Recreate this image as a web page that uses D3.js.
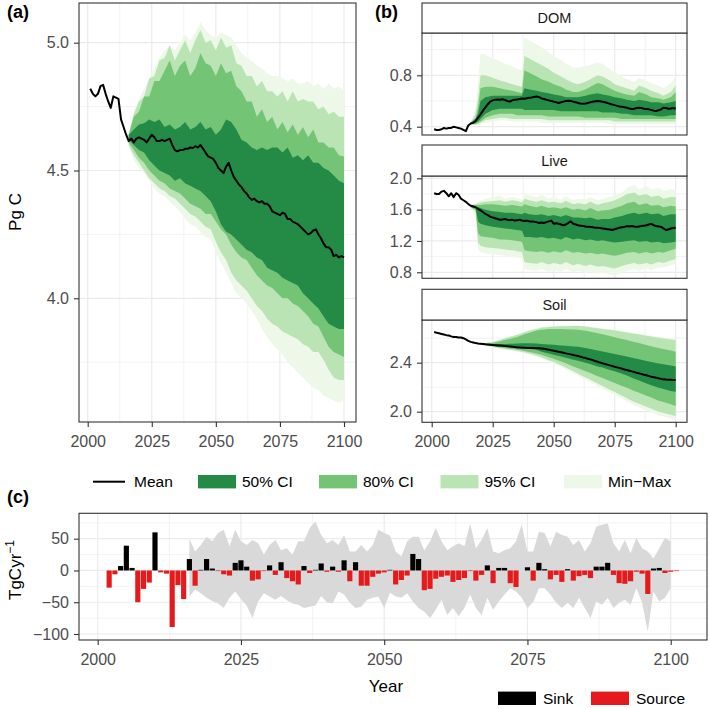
<!DOCTYPE html>
<html><head><meta charset="utf-8">
<script src="https://cdn.jsdelivr.net/npm/d3@7"></script>
<style>body{margin:0;background:#fff} svg text{font-family:"Liberation Sans",Arial,Helvetica,sans-serif}</style>
</head><body><svg id="chart" width="709" height="709"></svg>
<script>
// ---------------- DATA ----------------
const meanYears = d3.range(2001, 2101); // 2001..2100
const bandYearsA = [2016,2018,2020,2022,2024,2026,2028,2030,2032,2034,2036,2038,2040,2042,2044,2046,2048,2050,2052,2054,2056,2058,2060,2062,2064,2066,2068,2070,2072,2074,2076,2078,2080,2082,2084,2086,2088,2090,2092,2094,2096,2098,2100];

// Panel (a): total carbon, Pg C
const totalMean = [4.82,4.80,4.79,4.80,4.83,4.835,4.80,4.77,4.745,4.79,4.785,4.78,4.70,4.67,4.64,4.615,4.625,4.61,4.625,4.63,
4.625,4.62,4.61,4.625,4.64,4.63,4.615,4.615,4.62,4.615,4.62,4.625,4.60,4.58,4.575,4.58,4.58,4.585,4.585,4.59,
4.588,4.595,4.59,4.60,4.585,4.57,4.555,4.55,4.545,4.53,4.51,4.50,4.49,4.515,4.53,4.50,4.475,4.46,4.445,4.435,
4.42,4.41,4.395,4.385,4.39,4.38,4.375,4.38,4.37,4.37,4.36,4.34,4.335,4.33,4.325,4.335,4.33,4.31,4.31,4.30,
4.295,4.29,4.28,4.27,4.26,4.25,4.255,4.265,4.27,4.25,4.235,4.215,4.20,4.20,4.19,4.165,4.17,4.16,4.165,4.16];
const totalMinMaxHi = [4.64,4.73,4.78,4.82,4.86,4.90,4.94,4.97,4.99,4.97,5.00,5.03,5.01,5.04,5.08,5.05,5.03,5.02,5.04,5.03,5.02,4.99,4.96,4.94,4.93,4.91,4.90,4.88,4.87,4.87,4.86,4.85,4.86,4.84,4.84,4.85,4.83,4.84,4.82,4.84,4.82,4.83,4.81];
const total95Hi = [4.64,4.72,4.77,4.79,4.86,4.87,4.93,4.94,4.99,4.93,4.97,5.01,4.96,5.01,5.05,5.00,5.01,4.97,5.02,4.98,4.99,4.92,4.91,4.87,4.87,4.83,4.85,4.81,4.81,4.79,4.81,4.77,4.81,4.77,4.78,4.77,4.77,4.74,4.75,4.72,4.73,4.71,4.71];
const total80Hi = [4.64,4.71,4.73,4.79,4.79,4.85,4.85,4.89,4.93,4.87,4.91,4.93,4.87,4.90,4.96,4.92,4.91,4.87,4.92,4.88,4.89,4.83,4.81,4.77,4.77,4.71,4.74,4.69,4.71,4.66,4.69,4.65,4.68,4.64,4.67,4.63,4.66,4.61,4.61,4.59,4.59,4.56,4.555];
const total50Hi = [4.64,4.66,4.68,4.685,4.70,4.69,4.70,4.67,4.68,4.66,4.67,4.69,4.66,4.67,4.69,4.66,4.67,4.64,4.66,4.70,4.69,4.66,4.62,4.61,4.59,4.58,4.59,4.58,4.59,4.59,4.57,4.59,4.55,4.56,4.54,4.56,4.53,4.53,4.51,4.50,4.48,4.46,4.45];
const total50Lo = [4.62,4.60,4.58,4.57,4.54,4.52,4.50,4.49,4.48,4.46,4.47,4.45,4.44,4.43,4.42,4.40,4.38,4.34,4.29,4.26,4.25,4.23,4.21,4.19,4.18,4.16,4.15,4.12,4.11,4.10,4.08,4.07,4.06,4.05,4.02,4.00,3.98,3.96,3.93,3.90,3.89,3.88,3.88];
const total80Lo = [4.61,4.58,4.55,4.53,4.50,4.48,4.46,4.45,4.43,4.42,4.41,4.39,4.37,4.36,4.35,4.33,4.33,4.30,4.27,4.25,4.21,4.18,4.16,4.15,4.12,4.09,4.07,4.05,4.04,4.02,4.00,4.00,3.98,3.97,3.95,3.93,3.90,3.89,3.85,3.81,3.79,3.78,3.77];
const total95Lo = [4.60,4.56,4.53,4.50,4.47,4.45,4.43,4.42,4.40,4.39,4.37,4.35,4.33,4.32,4.30,4.28,4.27,4.22,4.18,4.15,4.10,4.07,4.05,4.03,4.00,3.97,3.95,3.92,3.90,3.89,3.87,3.86,3.85,3.84,3.82,3.81,3.79,3.79,3.76,3.72,3.69,3.68,3.68];
const totalMinMaxLo = [4.59,4.54,4.51,4.49,4.46,4.43,4.41,4.40,4.38,4.36,4.34,4.31,4.29,4.28,4.26,4.24,4.23,4.18,4.14,4.10,4.06,4.02,4.00,3.98,3.95,3.92,3.88,3.85,3.82,3.80,3.78,3.75,3.73,3.71,3.69,3.67,3.65,3.64,3.62,3.61,3.60,3.59,3.60];

// Panel (b): pools
const poolNames = ["DOM","Live","Soil"];
const bandYearsB = [2016,2018,2019,2020,2022,2025,2028,2030,2033,2035,2037,2038,2040,2043,2045,2048,2050,2053,2055,2058,2060,2063,2065,2068,2070,2073,2075,2078,2080,2083,2085,2088,2090,2093,2095,2098,2100];

const domMean = [0.38,0.375,0.375,0.38,0.39,0.385,0.39,0.39,0.40,0.395,0.39,0.385,0.375,0.365,0.41,0.425,0.43,0.445,0.47,0.495,
0.525,0.55,0.575,0.595,0.605,0.61,0.612,0.61,0.613,0.608,0.60,0.595,0.605,0.61,0.612,0.615,0.62,0.618,0.622,0.625,
0.628,0.632,0.635,0.63,0.62,0.615,0.61,0.605,0.60,0.595,0.59,0.585,0.59,0.595,0.60,0.602,0.60,0.595,0.59,0.585,
0.58,0.578,0.58,0.585,0.59,0.595,0.598,0.60,0.598,0.595,0.59,0.585,0.578,0.572,0.568,0.562,0.558,0.555,0.552,0.548,
0.542,0.538,0.54,0.545,0.548,0.545,0.54,0.538,0.535,0.53,0.525,0.522,0.528,0.535,0.548,0.545,0.54,0.542,0.545,0.54];
const domMinMaxHi = [0.43,0.55,0.75,0.97,0.96,0.93,0.91,0.89,0.87,0.85,0.84,1.09,1.07,1.04,1.02,0.98,0.95,0.92,0.89,0.86,0.86,0.87,0.88,0.90,0.89,0.85,0.82,0.79,0.77,0.75,0.78,0.76,0.74,0.72,0.70,0.74,0.79];
const dom95Hi = [0.43,0.50,0.62,0.80,0.80,0.78,0.76,0.75,0.73,0.72,0.71,0.95,0.93,0.90,0.88,0.85,0.82,0.79,0.77,0.74,0.73,0.75,0.77,0.80,0.79,0.76,0.73,0.71,0.70,0.68,0.72,0.70,0.68,0.66,0.64,0.67,0.72];
const dom80Hi = [0.43,0.47,0.55,0.70,0.71,0.71,0.70,0.69,0.68,0.67,0.66,0.84,0.82,0.79,0.77,0.75,0.73,0.71,0.69,0.67,0.67,0.69,0.71,0.74,0.73,0.70,0.68,0.66,0.65,0.64,0.67,0.65,0.63,0.62,0.61,0.63,0.67];
const dom50Hi = [0.43,0.46,0.50,0.60,0.63,0.64,0.64,0.64,0.64,0.64,0.64,0.70,0.69,0.68,0.67,0.66,0.65,0.64,0.63,0.63,0.63,0.64,0.65,0.66,0.65,0.64,0.63,0.62,0.61,0.60,0.61,0.60,0.59,0.59,0.58,0.59,0.60];
const dom50Lo = [0.42,0.43,0.44,0.46,0.50,0.53,0.54,0.54,0.54,0.54,0.54,0.53,0.53,0.53,0.53,0.53,0.53,0.52,0.52,0.52,0.52,0.52,0.52,0.52,0.51,0.51,0.51,0.50,0.50,0.49,0.49,0.49,0.49,0.48,0.48,0.49,0.49];
const dom80Lo = [0.42,0.42,0.43,0.44,0.47,0.49,0.50,0.50,0.50,0.49,0.49,0.49,0.49,0.49,0.49,0.48,0.48,0.48,0.48,0.48,0.48,0.47,0.47,0.47,0.47,0.47,0.47,0.46,0.46,0.46,0.46,0.46,0.46,0.46,0.46,0.46,0.46];
const dom95Lo = [0.42,0.42,0.42,0.43,0.45,0.46,0.47,0.47,0.46,0.46,0.46,0.46,0.46,0.46,0.46,0.45,0.45,0.45,0.45,0.45,0.45,0.45,0.45,0.45,0.45,0.45,0.44,0.44,0.44,0.44,0.44,0.44,0.44,0.44,0.44,0.44,0.44];
const domMinMaxLo = [0.42,0.41,0.41,0.42,0.43,0.44,0.45,0.45,0.44,0.44,0.44,0.44,0.44,0.44,0.43,0.43,0.43,0.43,0.43,0.43,0.43,0.43,0.43,0.43,0.43,0.42,0.42,0.42,0.42,0.42,0.42,0.42,0.42,0.42,0.42,0.42,0.42];

const liveMean = [1.81,1.80,1.80,1.83,1.84,1.81,1.77,1.81,1.76,1.81,1.79,1.74,1.72,1.70,1.67,1.65,1.64,1.63,1.61,1.59,
1.57,1.545,1.53,1.51,1.50,1.49,1.48,1.47,1.475,1.48,1.47,1.465,1.47,1.46,1.465,1.47,1.46,1.455,1.46,1.45,
1.45,1.445,1.44,1.43,1.435,1.43,1.44,1.45,1.46,1.42,1.425,1.42,1.41,1.40,1.41,1.43,1.45,1.42,1.41,1.40,
1.395,1.39,1.385,1.38,1.38,1.375,1.37,1.37,1.365,1.36,1.355,1.35,1.345,1.34,1.35,1.36,1.37,1.375,1.38,1.39,
1.385,1.39,1.385,1.38,1.385,1.39,1.395,1.40,1.41,1.42,1.40,1.39,1.385,1.38,1.36,1.34,1.345,1.36,1.365,1.37];
const liveMinMaxHi = [1.66,1.68,1.70,1.72,1.74,1.76,1.78,1.74,1.76,1.75,1.73,1.80,1.78,1.76,1.79,1.74,1.76,1.73,1.77,1.72,1.74,1.73,1.76,1.72,1.74,1.76,1.78,1.82,1.88,1.92,1.86,1.90,1.86,1.88,1.84,1.86,1.85];
const live95Hi = [1.66,1.67,1.68,1.69,1.70,1.71,1.72,1.70,1.72,1.71,1.69,1.74,1.72,1.70,1.72,1.69,1.70,1.68,1.71,1.67,1.68,1.67,1.70,1.66,1.68,1.70,1.72,1.76,1.80,1.82,1.78,1.80,1.76,1.78,1.74,1.76,1.76];
const live80Hi = [1.66,1.66,1.66,1.66,1.67,1.67,1.66,1.65,1.66,1.65,1.64,1.67,1.65,1.63,1.65,1.62,1.63,1.61,1.63,1.60,1.61,1.59,1.62,1.58,1.59,1.60,1.62,1.65,1.68,1.70,1.66,1.68,1.65,1.66,1.63,1.65,1.64];
const live50Hi = [1.65,1.64,1.63,1.62,1.60,1.58,1.57,1.56,1.56,1.55,1.54,1.56,1.54,1.53,1.54,1.52,1.53,1.51,1.53,1.50,1.50,1.49,1.50,1.47,1.48,1.48,1.50,1.52,1.54,1.56,1.54,1.56,1.54,1.55,1.52,1.54,1.54];
const live50Lo = [1.64,1.62,1.45,1.42,1.40,1.38,1.37,1.36,1.35,1.34,1.33,1.25,1.25,1.24,1.25,1.23,1.24,1.22,1.25,1.22,1.23,1.21,1.22,1.20,1.21,1.19,1.18,1.19,1.20,1.21,1.19,1.20,1.18,1.19,1.17,1.18,1.19];
const live80Lo = [1.63,1.60,1.30,1.26,1.25,1.24,1.22,1.22,1.21,1.20,1.19,1.08,1.07,1.06,1.07,1.05,1.07,1.05,1.08,1.05,1.06,1.04,1.05,1.03,1.04,1.02,1.01,1.03,1.05,1.06,1.04,1.06,1.04,1.06,1.05,1.08,1.10];
const live95Lo = [1.62,1.58,1.18,1.14,1.12,1.11,1.10,1.09,1.08,1.07,1.06,0.93,0.92,0.91,0.93,0.90,0.92,0.90,0.93,0.89,0.91,0.88,0.90,0.87,0.88,0.86,0.85,0.88,0.90,0.92,0.90,0.92,0.90,0.93,0.92,0.95,0.97];
const liveMinMaxLo = [1.61,1.56,1.10,1.06,1.04,1.03,1.02,1.01,1.00,0.99,0.98,0.84,0.83,0.82,0.84,0.81,0.83,0.81,0.84,0.80,0.82,0.79,0.81,0.78,0.79,0.77,0.76,0.79,0.82,0.84,0.82,0.85,0.83,0.86,0.86,0.89,0.91];

const soilMean = [2.650,2.645,2.640,2.635,2.630,2.625,2.622,2.615,2.610,2.610,2.605,2.606,2.600,2.590,2.578,2.570,2.565,2.560,2.557,2.555,
2.553,2.550,2.549,2.547,2.545,2.543,2.541,2.540,2.538,2.536,2.534,2.532,2.530,2.528,2.525,2.524,2.523,2.522,2.521,2.520,
2.519,2.519,2.518,2.517,2.516,2.513,2.510,2.506,2.502,2.498,2.494,2.489,2.485,2.481,2.476,2.472,2.468,2.463,2.458,2.454,
2.449,2.443,2.438,2.432,2.427,2.421,2.414,2.408,2.401,2.395,2.390,2.384,2.378,2.373,2.367,2.362,2.356,2.351,2.345,2.340,
2.335,2.329,2.324,2.318,2.313,2.308,2.302,2.297,2.291,2.286,2.282,2.278,2.273,2.268,2.264,2.262,2.261,2.260,2.259,2.258];
const soilMinMaxHi = [2.571,2.564,2.562,2.560,2.563,2.574,2.590,2.605,2.620,2.632,2.646,2.654,2.666,2.681,2.691,2.698,2.701,2.703,2.704,2.706,2.706,2.701,2.696,2.688,2.682,2.674,2.668,2.658,2.652,2.642,2.636,2.626,2.620,2.610,2.604,2.596,2.591];
const soil95Hi = [2.570,2.562,2.560,2.558,2.560,2.570,2.585,2.600,2.615,2.626,2.640,2.648,2.660,2.675,2.685,2.692,2.695,2.697,2.698,2.700,2.700,2.695,2.690,2.682,2.676,2.668,2.662,2.652,2.646,2.636,2.630,2.620,2.614,2.604,2.598,2.590,2.585];
const soil80Hi = [2.570,2.561,2.559,2.556,2.556,2.560,2.575,2.585,2.600,2.610,2.625,2.632,2.645,2.662,2.670,2.675,2.676,2.675,2.674,2.672,2.670,2.660,2.652,2.640,2.632,2.618,2.608,2.594,2.585,2.570,2.560,2.545,2.535,2.520,2.512,2.500,2.490];
const soil50Hi = [2.569,2.560,2.557,2.555,2.553,2.552,2.552,2.553,2.555,2.557,2.558,2.558,2.558,2.556,2.553,2.549,2.546,2.541,2.538,2.533,2.530,2.520,2.512,2.500,2.492,2.480,2.472,2.458,2.450,2.436,2.428,2.414,2.406,2.394,2.387,2.378,2.370];
const soil50Lo = [2.568,2.558,2.555,2.552,2.547,2.540,2.533,2.530,2.527,2.525,2.520,2.517,2.512,2.505,2.490,2.475,2.465,2.450,2.440,2.425,2.415,2.400,2.390,2.370,2.360,2.340,2.330,2.310,2.295,2.270,2.255,2.230,2.215,2.195,2.185,2.170,2.163];
const soil80Lo = [2.567,2.556,2.553,2.550,2.543,2.535,2.525,2.520,2.512,2.508,2.500,2.496,2.488,2.475,2.465,2.445,2.432,2.410,2.395,2.370,2.355,2.330,2.315,2.290,2.275,2.250,2.235,2.210,2.195,2.170,2.155,2.130,2.115,2.090,2.080,2.060,2.047];
const soil95Lo = [2.566,2.555,2.551,2.548,2.540,2.530,2.518,2.512,2.503,2.498,2.490,2.485,2.475,2.458,2.445,2.420,2.405,2.380,2.360,2.330,2.310,2.280,2.260,2.230,2.210,2.180,2.160,2.130,2.110,2.080,2.065,2.040,2.025,2.000,1.990,1.975,1.965];
const soilMinMaxLo = [2.565,2.553,2.549,2.545,2.536,2.525,2.512,2.505,2.495,2.490,2.481,2.476,2.465,2.447,2.433,2.407,2.391,2.365,2.344,2.313,2.292,2.261,2.240,2.209,2.188,2.157,2.136,2.105,2.084,2.053,2.037,2.011,1.996,1.970,1.960,1.944,1.934];

// Panel (c): annual flux, Tg C yr-1
const fluxYears = d3.range(2002, 2102); // 2002..2101
const fluxValues = [-27,-6,7,39,4,-50,-29,-19,60,-3,-5,-89,-23,-45,18,-24,1,18,3,-1,
-6,-8,12,16,6,-16,-14,-1,8,-7,13,-12,-17,-22,7,-4,1,11,-2,6,
-2,16,-17,13,-24,-24,-10,-5,-3,1,-22,-15,-8,26,18,-31,-29,-13,-10,-8,
-18,-15,-12,-1,-16,-7,8,-20,4,4,-20,-26,0,5,-16,12,2,-14,-7,-18,
2,-16,-9,-7,-12,6,6,12,-7,-20,-21,-17,-2,-5,-37,3,4,-4,-2,-1];
const rangeYears = d3.range(2016, 2101); // 2016..2100
const fluxRangeHi = [50,30,40,53,46,59,64,38,64,46,40,48,43,25,40,48,32,35,25,46,
46,67,77,56,43,48,40,56,30,30,40,30,40,64,59,55,30,22,46,53,
53,32,46,67,46,32,38,43,38,74,35,48,67,30,27,32,35,46,72,30,
30,61,59,38,61,56,53,40,48,30,43,69,72,74,43,30,48,27,51,35,
30,19,35,51,46];
const fluxRangeLo = [-41,-30,-36,-43,-48,-52,-59,-43,-33,-45,-55,-75,-49,-36,-41,-46,-40,-47,-52,-54,
-59,-57,-55,-40,-50,-52,-33,-38,-51,-59,-57,-46,-43,-41,-59,-35,-41,-43,-36,-49,
-59,-65,-75,-62,-46,-70,-59,-72,-59,-38,-59,-70,-43,-62,-49,-38,-28,-33,-43,-59,
-50,-28,-28,-38,-51,-59,-51,-59,-43,-59,-75,-49,-54,-43,-59,-51,-46,-54,-28,-50,
-96,-33,-49,-43,-28];

const legendLabels = ["Mean","50% CI","80% CI","95% CI","Min\u2212Max"];
const fluxLegend = ["Sink","Source"];

// ---------------- STYLE ----------------
const COL = {mm:"#edf8e9", c95:"#bae4b3", c80:"#74c476", c50:"#238b45"};
const GRID = "#ebebeb", BORDER = "#333333", TICKTXT = "#4d4d4d";
const FONT = '"Liberation Sans", Arial, Helvetica, sans-serif';
const TICKFS = "16px";

const svg = d3.select("#chart");
let clipId = 0;

function panel(opts) {
  const {x, y, left, right, top, bottom, xMajor, xMinor, yMajor, yMinor, yFmt, xLabels} = opts;
  const g = svg.append("g");
  g.append("rect").attr("x", left).attr("y", top).attr("width", right-left).attr("height", bottom-top).attr("fill", "#fff");
  yMinor.forEach(v => g.append("line").attr("x1", left).attr("x2", right).attr("y1", y(v)).attr("y2", y(v)).attr("stroke", GRID).attr("stroke-width", 0.6));
  xMinor.forEach(v => g.append("line").attr("y1", top).attr("y2", bottom).attr("x1", x(v)).attr("x2", x(v)).attr("stroke", GRID).attr("stroke-width", 0.6));
  yMajor.forEach(v => g.append("line").attr("x1", left).attr("x2", right).attr("y1", y(v)).attr("y2", y(v)).attr("stroke", GRID).attr("stroke-width", 1.2));
  xMajor.forEach(v => g.append("line").attr("y1", top).attr("y2", bottom).attr("x1", x(v)).attr("x2", x(v)).attr("stroke", GRID).attr("stroke-width", 1.2));
  const id = "clip" + (clipId++);
  svg.append("clipPath").attr("id", id).append("rect").attr("x", left).attr("y", top).attr("width", right-left).attr("height", bottom-top);
  const content = svg.append("g").attr("clip-path", `url(#${id})`);
  const ay = svg.append("g").attr("transform", `translate(${left},0)`)
    .call(d3.axisLeft(y).tickValues(yMajor).tickFormat(yFmt).tickSize(5).tickPadding(5).tickSizeOuter(0));
  ay.select(".domain").remove();
  ay.selectAll(".tick line").attr("stroke", BORDER).attr("stroke-width", 1.1);
  ay.selectAll(".tick text").attr("fill", TICKTXT).style("font-size", TICKFS).style("font-family", FONT);
  if (xLabels) {
    const ax = svg.append("g").attr("transform", `translate(0,${bottom})`)
      .call(d3.axisBottom(x).tickValues(xMajor).tickFormat(d3.format("d")).tickSize(5).tickPadding(8.5).tickSizeOuter(0));
    ax.select(".domain").remove();
    ax.selectAll(".tick line").attr("stroke", BORDER).attr("stroke-width", 1.1);
    ax.selectAll(".tick text").attr("fill", TICKTXT).style("font-size", TICKFS).style("font-family", FONT);
  }
  const frame = () => svg.append("rect").attr("x", left).attr("y", top).attr("width", right-left).attr("height", bottom-top)
      .attr("fill", "none").attr("stroke", BORDER).attr("stroke-width", 1.1);
  return {content, frame};
}

function bands(g, x, y, years, sets, mean) {
  sets.forEach(([lo, hi, col]) => {
    const data = years.map((yr, i) => ({yr, lo: lo[i], hi: hi[i]}));
    g.append("path").datum(data)
      .attr("d", d3.area().x(d => x(d.yr)).y0(d => y(d.lo)).y1(d => y(d.hi)))
      .attr("fill", col);
  });
  const md = meanYears.map((yr, i) => ({yr, v: mean[i]}));
  g.append("path").datum(md).attr("d", d3.line().x(d => x(d.yr)).y(d => y(d.v)))
    .attr("fill", "none").attr("stroke", "#000").attr("stroke-width", 2).attr("stroke-linejoin", "round");
}

const xMajor = [2000, 2025, 2050, 2075, 2100];
const xMinor = [2012.5, 2037.5, 2062.5, 2087.5];

// ---------------- PANEL A ----------------
const xA = d3.scaleLinear().domain([2000, 2100]).range([87.7, 344]);
const yA = d3.scaleLinear().domain([4.0, 5.0]).range([298.3, 42.7]);
const pA = panel({x: xA, y: yA, left: 79, right: 356, top: 3, bottom: 422, xMajor, xMinor,
  yMajor: [4.0, 4.5, 5.0], yMinor: [3.75, 4.25, 4.75], yFmt: d3.format(".1f"), xLabels: true});
bands(pA.content, xA, yA, bandYearsA, [
  [totalMinMaxLo, totalMinMaxHi, COL.mm], [total95Lo, total95Hi, COL.c95],
  [total80Lo, total80Hi, COL.c80], [total50Lo, total50Hi, COL.c50]], totalMean);
pA.frame();

// ---------------- PANEL B ----------------
const xB = d3.scaleLinear().domain([2000, 2100]).range([431.7, 675.7]);
const facets = [
  {name: poolNames[0], stripTop: 3, top: 33, bottom: 135, y: d3.scaleLinear().domain([0.4, 0.8]).range([126.7, 75.3]),
   yMajor: [0.4, 0.8], yMinor: [0.6, 1.0], mean: domMean,
   sets: [[domMinMaxLo, domMinMaxHi, COL.mm], [dom95Lo, dom95Hi, COL.c95], [dom80Lo, dom80Hi, COL.c80], [dom50Lo, dom50Hi, COL.c50]]},
  {name: poolNames[1], stripTop: 145, top: 176, bottom: 278.3, y: d3.scaleLinear().domain([0.8, 2.0]).range([272.3, 178.3]),
   yMajor: [0.8, 1.2, 1.6, 2.0], yMinor: [1.0, 1.4, 1.8], mean: liveMean,
   sets: [[liveMinMaxLo, liveMinMaxHi, COL.mm], [live95Lo, live95Hi, COL.c95], [live80Lo, live80Hi, COL.c80], [live50Lo, live50Hi, COL.c50]]},
  {name: poolNames[2], stripTop: 289.3, top: 320, bottom: 422.3, y: d3.scaleLinear().domain([2.0, 2.4]).range([411.7, 362.7]),
   yMajor: [2.0, 2.4], yMinor: [2.2, 2.6], mean: soilMean,
   sets: [[soilMinMaxLo, soilMinMaxHi, COL.mm], [soil95Lo, soil95Hi, COL.c95], [soil80Lo, soil80Hi, COL.c80], [soil50Lo, soil50Hi, COL.c50]]}
];
facets.forEach((f, i) => {
  const p = panel({x: xB, y: f.y, left: 422, right: 687, top: f.top, bottom: f.bottom, xMajor, xMinor,
    yMajor: f.yMajor, yMinor: f.yMinor, yFmt: d3.format(".1f"), xLabels: i === 2});
  bands(p.content, xB, f.y, bandYearsB, f.sets, f.mean);
  p.frame();
  svg.append("rect").attr("x", 422).attr("y", f.stripTop).attr("width", 265).attr("height", f.top - f.stripTop)
    .attr("fill", "#fff").attr("stroke", BORDER).attr("stroke-width", 1.1);
  svg.append("text").attr("x", (422 + 687) / 2).attr("y", (f.stripTop + f.top) / 2 + 5.2)
    .attr("text-anchor", "middle").style("font-size", "14.5px").attr("fill", "#1a1a1a").text(f.name);
});

// ---------------- PANEL C ----------------
const xC = d3.scaleLinear().domain([2000, 2100]).range([97.7, 670.7]);
const yC = d3.scaleLinear().domain([-100, 50]).range([634, 538.7]);
const pC = panel({x: xC, y: yC, left: 79, right: 707, top: 513.3, bottom: 640, xMajor, xMinor,
  yMajor: [-100, -50, 0, 50], yMinor: [-75, -25, 25, 75], yFmt: d3.format("d"), xLabels: true});
const rangeData = rangeYears.map((yr, i) => ({yr, lo: fluxRangeLo[i], hi: fluxRangeHi[i]}));
pC.content.append("path").datum(rangeData)
  .attr("d", d3.area().x(d => xC(d.yr)).y0(d => yC(d.lo)).y1(d => yC(d.hi))).attr("fill", "#d9d9d9");
const bw = (xC(1) - xC(0)) * 0.9;
pC.content.selectAll("rect.bar").data(fluxYears.map((yr, i) => ({yr, v: fluxValues[i]}))).enter()
  .append("rect").attr("class", "bar")
  .attr("x", d => xC(d.yr) - bw / 2).attr("width", bw)
  .attr("y", d => yC(Math.max(0, d.v))).attr("height", d => Math.abs(yC(d.v) - yC(0)))
  .attr("fill", d => d.v >= 0 ? "#000000" : "#e41a1c");
pC.frame();

// ---------------- TEXT & LEGENDS ----------------
const lab = (x, y, t) => svg.append("text").attr("x", x).attr("y", y).style("font-size", "18px").style("font-weight", "bold").attr("fill", "#000").text(t);
lab(7, 18, "(a)"); lab(375, 18, "(b)"); lab(7, 503, "(c)");

svg.append("text").attr("transform", "translate(21,212) rotate(-90)").attr("text-anchor", "middle")
  .style("font-size", "17px").attr("fill", "#000").text("Pg C");
const tg = svg.append("text").attr("transform", "translate(21,570) rotate(-90)").attr("text-anchor", "middle")
  .style("font-size", "17px").attr("fill", "#000");
tg.append("tspan").text("TgCyr");
tg.append("tspan").attr("dy", -7).style("font-size", "12px").text("\u22121");
svg.append("text").attr("x", 386).attr("y", 692).attr("text-anchor", "middle").style("font-size", "17px").attr("fill", "#000").text("Year");

const legY = 481.7;
svg.append("line").attr("x1", 93).attr("x2", 125).attr("y1", legY).attr("y2", legY).attr("stroke", "#000").attr("stroke-width", 2);
svg.append("text").attr("x", 134).attr("y", legY + 5.5).style("font-size", "15.5px").attr("fill", "#000").text(legendLabels[0]);
const keyX = [198, 319, 440.5, 564];
const keyCol = [COL.c50, COL.c80, COL.c95, COL.mm];
keyX.forEach((kx, i) => {
  svg.append("rect").attr("x", kx).attr("y", legY - 6.7).attr("width", 38).attr("height", 13.4).attr("fill", keyCol[i]);
  svg.append("text").attr("x", kx + 44).attr("y", legY + 5.5).style("font-size", "15.5px").attr("fill", "#000").text(legendLabels[i + 1]);
});
const fY = 698.3;
[[498, "#000000"], [591, "#e41a1c"]].forEach(([kx, c], i) => {
  svg.append("rect").attr("x", kx).attr("y", fY - 6.7).attr("width", 38).attr("height", 13.4).attr("fill", c);
  svg.append("text").attr("x", kx + 45).attr("y", fY + 5.5).style("font-size", "15.5px").attr("fill", "#000").text(fluxLegend[i]);
});
</script>
</body></html>
